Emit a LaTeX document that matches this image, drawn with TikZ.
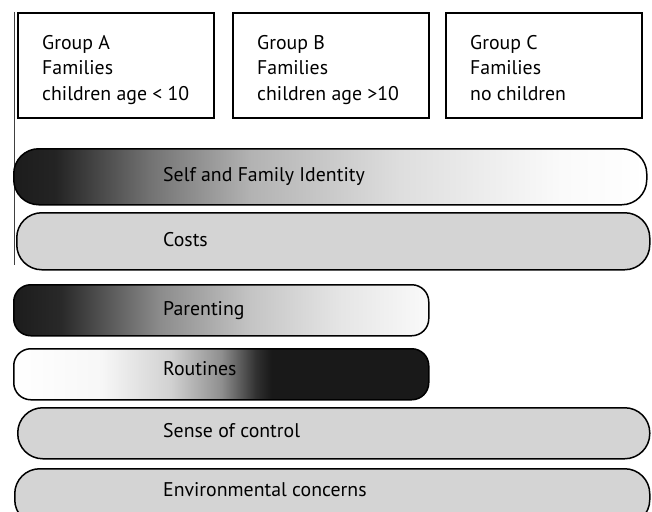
\documentclass[tikz,border=0pt]{standalone}
\usepackage{fontspec}
\setmainfont{PT Sans}
\pgfdeclarehorizontalshading{identityshade}{100bp}{color(0bp)=(black!89); color(25bp)=(black!89); color(28.3bp)=(black!86); color(35.8bp)=(black!55); color(43.7bp)=(black!30); color(55.5bp)=(black!13); color(68.2bp)=(black!2); color(75bp)=(white); color(100bp)=(white)}
\pgfdeclarehorizontalshading{parentingshade}{100bp}{color(0bp)=(black!89); color(25bp)=(black!89); color(30.7bp)=(black!84); color(42.7bp)=(black!45); color(53.6bp)=(black!23); color(64.4bp)=(black!10); color(75bp)=(black!2); color(100bp)=(black!2)}
\pgfdeclarehorizontalshading{routinesshade}{100bp}{color(0bp)=(white); color(25bp)=(white); color(35.5bp)=(black!3); color(43.9bp)=(black!18); color(50bp)=(black!44); color(54.2bp)=(black!81); color(56bp)=(black!90); color(75bp)=(black!90); color(100bp)=(black!90)}
\definecolor{bargray}{HTML}{D4D4D4}
\tikzset{
  groupbox/.style={draw, line width=1.6pt, anchor=north west, inner sep=0pt, minimum width=196pt, minimum height=105pt},
  grouptext/.style={anchor=north west, inner sep=0pt, align=left, font=\fontsize{19.8}{25.5}\selectfont},
  bar/.style={draw, line width=1.5pt, anchor=north west, inner sep=0pt},
  longbar/.style={bar, rounded corners=25pt, minimum width=633pt},
  shortbar/.style={bar, rounded corners=17pt, minimum width=415pt, minimum height=51pt},
  bartext/.style={anchor=base west, inner sep=0pt, font=\fontsize{19.8}{24}\selectfont}
}
\begin{document}
\begin{tikzpicture}[x=1pt, y=-1pt]
  \useasboundingbox (0,0) rectangle (652,511);
  \clip (0,0) rectangle (652,511);

  \node[groupbox] (groupA) at (17,12) {};
  \node[groupbox] (groupB) at (232,12) {};
  \node[groupbox] (groupC) at (445,12) {};
  \node[grouptext] (groupA-text) at ([xshift=25pt, yshift=-23pt]groupA.north west) {Group A\\Families\\children age < 10};
  \node[grouptext] (groupB-text) at ([xshift=25pt, yshift=-23pt]groupB.north west) {Group B\\Families\\children age >10};
  \node[grouptext] (groupC-text) at ([xshift=25pt, yshift=-23pt]groupC.north west) {Group C\\Families\\no children};

  \coordinate (rule-top) at (14,12);
  \coordinate (rule-bottom) at (14,265);
  \draw[line width=0.8pt, black!75] (rule-top) -- (rule-bottom);

  \node[longbar, shade, shading=identityshade, minimum height=56pt] (identity) at (13,148) {};
  \node[bartext] (identity-text) at ([xshift=150pt, yshift=-5pt]identity.west) {Self and Family Identity};
  \node[longbar, fill=bargray, minimum height=57pt] (costs) at (16,212) {};
  \node[bartext] (costs-text) at ([xshift=147pt, yshift=-5pt]costs.west) {Costs};

  \node[shortbar, shade, shading=parentingshade] (parenting) at (13,284) {};
  \node[bartext] (parenting-text) at ([xshift=150pt, yshift=-5pt]parenting.west) {Parenting};
  \node[shortbar, shade, shading=routinesshade] (routines) at (13,348) {};
  \node[bartext] (routines-text) at ([xshift=150pt, yshift=-1pt]routines.west) {Routines};

  \node[longbar, fill=bargray, minimum height=51pt, minimum width=632pt] (control) at (17,407) {};
  \node[bartext] (control-text) at ([xshift=146pt, yshift=-4pt]control.west) {Sense of control};
  \node[longbar, fill=bargray, minimum height=56pt, minimum width=635pt] (environ) at (14,468) {};
  \node[bartext] (environ-text) at ([xshift=149pt, yshift=0pt]environ.west) {Environmental concerns};
\end{tikzpicture}
\end{document}
